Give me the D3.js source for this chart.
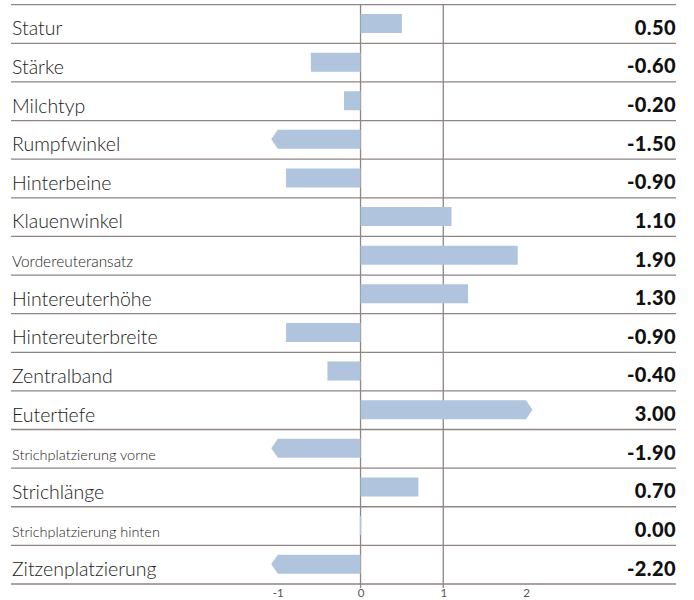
<!DOCTYPE html>
<html>
<head>
<meta charset="utf-8">
<style type="text/css">
    html, body {
        margin: 0px;
        padding: 0px;
        background: #fff;
        font-family: 'Lato', sans-serif;
    }
    .grid {
        stroke: #8f8585;
        stroke-width: 1.3px;
    }
    .bar {
        fill: #b0c4de;
    }
    .label {
        fill: #222;
        font-weight: 300;
    }
    .value {
        fill: #111;
        font-weight: 900;
        font-size: 20px;
        letter-spacing: 0.4px;
    }
    .tick text {
        fill: #555;
        font-size: 11.5px;
    }
</style>
<script src="https://d3js.org/d3.v7.min.js"></script>
<title>Exterieur</title>
</head>
<body>
</body>
<script type="text/javascript">
// data
var traits = ["Statur", "Stärke", "Milchtyp", "Rumpfwinkel", "Hinterbeine", "Klauenwinkel",
    "Vordereuteransatz", "Hintereuterhöhe", "Hintereuterbreite", "Zentralband", "Eutertiefe",
    "Strichplatzierung vorne", "Strichlänge", "Strichplatzierung hinten", "Zitzenplatzierung"];
var values = [0.50, -0.60, -0.20, -1.50, -0.90, 1.10, 1.90, 1.30, -0.90, -0.40, 3.00, -1.90, 0.70, 0.00, -2.20];
var tickValues = [-1, 0, 1, 2];
var gridValues = [0, 1];

// some long labels are set smaller
var labelSize = {
    "Vordereuteransatz": 15.4,
    "Strichplatzierung vorne": 14.5,
    "Strichplatzierung hinten": 14.5
};

var width = 694,
    height = 600;

var margin = { top: 4.7, bottom: 16, left: 11, right: 18 };

var svg = d3.select("body")
    .append("svg")
    .attr("width", width)
    .attr("height", height);

var x = d3.scaleLinear()
    .domain([-1, 2])
    .range([277.8, 526]);

var y = d3.scaleBand()
    .domain(traits)
    .range([margin.top, height - margin.bottom]);

var right = width - margin.right;
var bottom = height - margin.bottom;

var rows = traits.map(function(t, i) { return { name: t, value: values[i] }; });

// horizontal row lines
svg.selectAll(".hline")
    .data(traits)
    .enter().append("line")
    .attr("class", "grid")
    .attr("x1", margin.left)
    .attr("x2", right)
    .attr("y1", function(d) { return y(d); })
    .attr("y2", function(d) { return y(d); });

svg.append("line")
    .attr("class", "grid")
    .attr("x1", margin.left)
    .attr("x2", right)
    .attr("y1", bottom)
    .attr("y2", bottom);

// vertical lines
svg.selectAll(".vline")
    .data(gridValues)
    .enter().append("line")
    .attr("class", "grid")
    .attr("x1", function(d) { return x(d); })
    .attr("x2", function(d) { return x(d); })
    .attr("y1", margin.top)
    .attr("y2", bottom + 4);

// bars, with a pointed end when the value is off the scale
var barH = 19;
var tip = 6.5;

function barPath(d) {
    var [lo, hi] = x.domain();
    var v = Math.max(lo, Math.min(hi, d.value));
    var x0 = x(0), x1 = x(v);
    var top = y(d.name) + (y.bandwidth() - barH) / 2 - 0.5;
    var bot = top + barH;
    var mid = (top + bot) / 2;
    if (d.value === 0) {
        return "M" + (x0 - 0.7) + "," + top + "H" + (x0 + 0.7) + "V" + bot + "H" + (x0 - 0.7) + "Z";
    }
    var p = "M" + x0 + "," + top + "H" + x1;
    if (d.value > hi) p += "L" + (x1 + tip) + "," + mid;
    if (d.value < lo) p += "L" + (x1 - tip) + "," + mid;
    p += "L" + x1 + "," + bot + "H" + x0 + "Z";
    return p;
}

svg.selectAll(".bar")
    .data(rows)
    .enter().append("path")
    .attr("class", "bar")
    .attr("d", barPath);

// labels
svg.selectAll(".label")
    .data(rows)
    .enter().append("text")
    .attr("class", "label")
    .attr("x", 12)
    .attr("y", function(d) { return y(d.name) + y.bandwidth() - 8; })
    .style("font-size", function(d) { return (labelSize[d.name] || 19.5) + "px"; })
    .text(function(d) { return d.name; });

// values on the right
svg.selectAll(".value")
    .data(rows)
    .enter().append("text")
    .attr("class", "value")
    .attr("x", right)
    .attr("y", function(d) { return y(d.name) + y.bandwidth() - 8.5; })
    .attr("text-anchor", "end")
    .text(function(d) { return d.value.toFixed(2); });

// axis
var axis = svg.append("g")
    .attr("transform", "translate(0," + bottom + ")")
    .call(d3.axisBottom(x).tickValues(tickValues).tickFormat(function(d) { return String(d); }).tickSize(0).tickPadding(5));

axis.select(".domain").remove();
axis.selectAll(".tick text")
    .attr("dy", "0.71em")
    .style("font-family", "Lato, sans-serif");
</script>
</html>
